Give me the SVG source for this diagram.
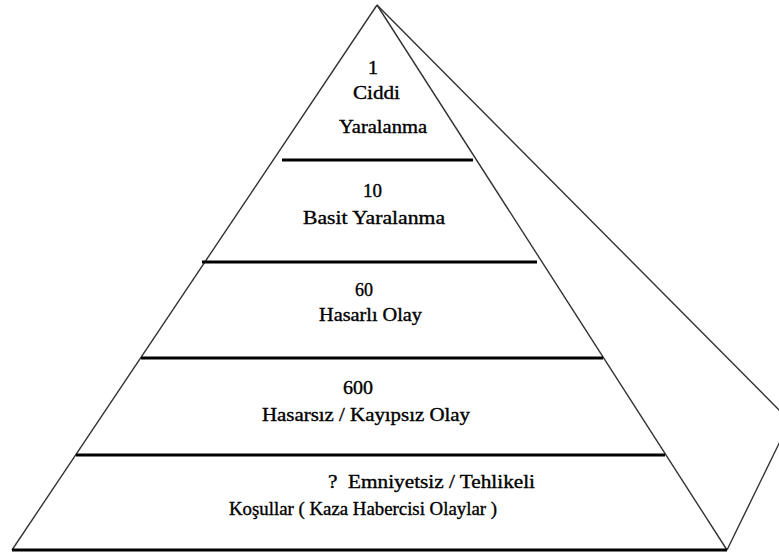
<svg xmlns="http://www.w3.org/2000/svg" width="779" height="556" viewBox="0 0 779 556">
<style>
.edge{fill:none;stroke:#333;stroke-width:1.4;stroke-linejoin:miter}
.tier{stroke:#000;stroke-width:3;fill:none}
.t{font-family:'Liberation Serif','Times New Roman','DejaVu Serif',serif;font-size:18px;fill:#000;stroke:#000;stroke-width:0.35;white-space:pre}
</style>
<rect width="779" height="556" fill="#fff"/>
<g id="connectors">
<path class="edge" d="M377,5 L12,550"/>
<path class="edge" d="M377,5 L727,550"/>
<path class="edge" d="M377,5 L790,421 L727,550"/>
<line class="tier" x1="282" y1="160" x2="473" y2="160"/>
<line class="tier" x1="202" y1="262" x2="537" y2="262"/>
<line class="tier" x1="141" y1="358" x2="603" y2="358"/>
<line class="tier" x1="76" y1="455" x2="665" y2="455"/>
<line class="tier" x1="12" y1="550" x2="727" y2="550"/>
</g>
<g id="tier1">
<text class="t" x="368" y="74" textLength="10" lengthAdjust="spacingAndGlyphs">1</text>
<text class="t" x="353" y="99" textLength="47" lengthAdjust="spacingAndGlyphs">Ciddi</text>
<text class="t" x="339" y="133" textLength="88" lengthAdjust="spacingAndGlyphs">Yaralanma</text>
</g>
<g id="tier2">
<text class="t" x="363" y="197" textLength="19" lengthAdjust="spacingAndGlyphs">10</text>
<text class="t" x="303" y="224" textLength="142" lengthAdjust="spacingAndGlyphs">Basit Yaralanma</text>
</g>
<g id="tier3">
<text class="t" x="355" y="296" textLength="18" lengthAdjust="spacingAndGlyphs">60</text>
<text class="t" x="319" y="321" textLength="103" lengthAdjust="spacingAndGlyphs">Hasarlı Olay</text>
</g>
<g id="tier4">
<text class="t" x="343" y="394" textLength="30" lengthAdjust="spacingAndGlyphs">600</text>
<text class="t" x="262" y="421" textLength="208" lengthAdjust="spacingAndGlyphs">Hasarsız / Kayıpsız Olay</text>
</g>
<g id="tier5">
<text class="t" x="328" y="488" textLength="207" lengthAdjust="spacingAndGlyphs" xml:space="preserve">?  Emniyetsiz / Tehlikeli</text>
<text class="t" x="229" y="515" textLength="268" lengthAdjust="spacingAndGlyphs">Koşullar ( Kaza Habercisi Olaylar )</text>
</g>
</svg>
